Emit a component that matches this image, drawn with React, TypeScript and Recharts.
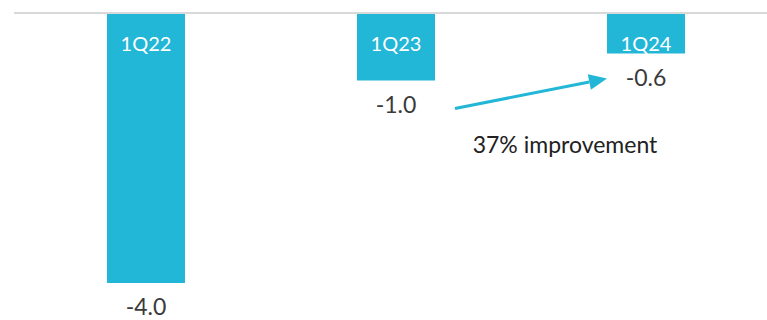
import React from "react";
import { BarChart, Bar, XAxis, YAxis, LabelList, ReferenceLine } from "recharts";

const quarters = ["1Q22", "1Q23", "1Q24"];
const values = [-4.0, -1.0, -0.6];
const improvementText = "37% improvement";

const BAR_COLOR = "#22B6D7";
const FONT = "Lato, 'Open Sans', sans-serif";

const data = quarters.map((quarter, i) => ({ quarter, value: values[i] }));

// quarter name sits inside the bar, just under the zero line
const QuarterLabel = (props: any) => {
  const { x, y, width, height, value } = props;
  const top = Math.min(y, y + height);
  return (
    <text
      x={x + width / 2}
      y={top + 30}
      textAnchor="middle"
      dominantBaseline="central"
      fill="#ffffff"
      fontSize={20}
      fontFamily={FONT}
    >
      {value}
    </text>
  );
};

// numeric value hangs below the end of the bar
const ValueLabel = (props: any) => {
  const { x, y, width, height, value } = props;
  const bottom = Math.max(y, y + height);
  return (
    <text
      x={x + width / 2}
      y={bottom + 23}
      textAnchor="middle"
      dominantBaseline="central"
      fill="#3a3a3a"
      fontSize={23}
      fontFamily={FONT}
    >
      {Number(value).toFixed(1)}
    </text>
  );
};

// arrow between the 1Q23 and 1Q24 values, with caption underneath
const ImprovementArrow = (props: any) => {
  const { x1, y1, x2, y2 } = props;
  const sx = x1 + 59;
  const sy = y1 + 28;
  const ex = x2 - 39;
  const ey = y2 + 25;
  const angle = Math.atan2(ey - sy, ex - sx);
  const headLen = 18;
  const headHalf = 8;
  const bx = ex - headLen * Math.cos(angle);
  const by = ey - headLen * Math.sin(angle);
  const px = -Math.sin(angle) * headHalf;
  const py = Math.cos(angle) * headHalf;
  return (
    <g>
      <line x1={sx} y1={sy} x2={bx} y2={by} stroke={BAR_COLOR} strokeWidth={3} />
      <polygon
        points={`${ex},${ey} ${bx + px},${by + py} ${bx - px},${by - py}`}
        fill={BAR_COLOR}
      />
      <text
        x={(sx + ex) / 2 + 34}
        y={sy + 35}
        textAnchor="middle"
        dominantBaseline="central"
        fill="#222222"
        fontSize={23}
        fontFamily={FONT}
      >
        {improvementText}
      </text>
    </g>
  );
};

export default function App() {
  return (
    <div
      style={{
        position: "absolute",
        left: 0,
        top: 0,
        width: 767,
        height: 320,
        overflow: "hidden",
        background: "#ffffff",
      }}
    >
      <BarChart
        width={771}
        height={320}
        data={data}
        margin={{ top: 13, right: 0, bottom: 37, left: 14 }}
      >
        <XAxis dataKey="quarter" hide padding={{ left: 7, right: 0 }} />
        <YAxis hide domain={[-4, 0]} />
        <Bar dataKey="value" fill={BAR_COLOR} barSize={78} isAnimationActive={false}>
          <LabelList dataKey="quarter" content={<QuarterLabel />} />
          <LabelList dataKey="value" content={<ValueLabel />} />
        </Bar>
        <ReferenceLine y={0} stroke="#d9d9d9" strokeWidth={2} />
        <ReferenceLine
          segment={[
            { x: quarters[1], y: values[1] },
            { x: quarters[2], y: values[2] },
          ]}
          stroke="none"
          shape={<ImprovementArrow />}
        />
      </BarChart>
    </div>
  );
}
